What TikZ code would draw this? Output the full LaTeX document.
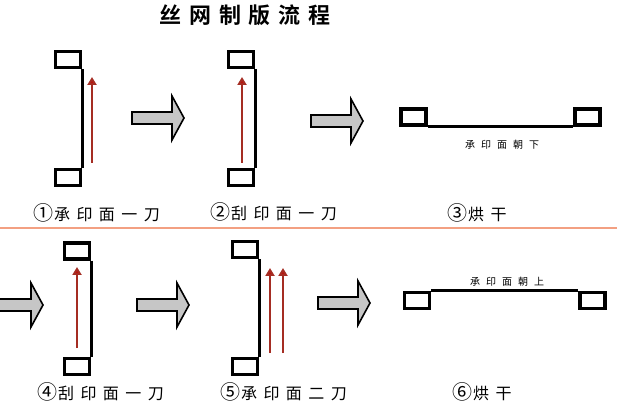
\documentclass[tikz,border=0pt]{standalone}
\usepackage{fontspec}
\newfontfamily\cjk{Noto Sans CJK SC}
\newfontfamily\cjkls[LetterSpace=40]{Noto Sans CJK SC}
\newfontfamily\cjksm[LetterSpace=60]{Noto Sans CJK SC}
\newfontfamily\cjkbold[LetterSpace=35]{Noto Sans CJK SC Bold}
\newcommand{\circd}[1]{{\cjk\fontsize{20}{20}\selectfont\raisebox{-0.5pt}{#1}}\hspace{1pt}}
\usetikzlibrary{arrows.meta}
\definecolor{stroke}{RGB}{165,45,35}
\definecolor{sep}{RGB}{243,160,130}
\tikzset{
  frame/.style={draw=black, line width=3.2pt, minimum width=25pt, minimum height=16pt, inner sep=0pt},
  bar/.style={line width=2.8pt, draw=black},
  redarr/.style={line width=2.8pt, draw=stroke, -{Triangle[length=8pt,width=9pt,fill=red!80!black]}},
  lbl/.style={font=\cjkls\fontsize{16}{16}\selectfont, anchor=west, inner sep=0pt},
  small/.style={font=\cjksm\fontsize{10}{10}\selectfont, inner sep=0pt},
  garrow/.pic={\draw[fill=gray!45, line width=1.6pt, line join=miter] (0,-6) -- (40,-6) -- (40,-22) -- (52,0) -- (40,22) -- (40,6) -- (0,6) -- cycle;}
}
\begin{document}
\begin{tikzpicture}[x=1pt,y=-1pt]
\useasboundingbox (0,0) rectangle (639,411);
% title
\node[font=\cjkbold\fontsize{22}{22}\selectfont, inner sep=0pt] (title) at (245,15) {丝网制版流程};
% separator
\draw[sep, line width=1.8pt] (0,228) -- (617,228);

% frame 1
\node[frame] (t1) at (68,59.5) {};
\node[frame] (b1) at (68,177.5) {};
\draw[bar] (t1.south east) -- (b1.north east);
\coordinate (r1s) at (92,163); \coordinate (r1e) at (92,77);
\draw[redarr] (r1s) -- (r1e);
\pic at (132,118) {garrow};
\node[lbl] (l1) at (33,213) {\circd{①}承印面一刀};

% frame 2
\node[frame] (t2) at (241,59.5) {};
\node[frame] (b2) at (241,177.5) {};
\draw[bar] (t2.south east) -- (b2.north east);
\coordinate (r2s) at (242,163); \coordinate (r2e) at (242,77);
\draw[redarr] (r2s) -- (r2e);
\pic at (311,121) {garrow};
\node[lbl] (l2) at (210,212) {\circd{②}刮印面一刀};

% frame 3
\node[frame] (lt3) at (413.5,117) {};
\node[frame] (rt3) at (587.5,117) {};
\draw[bar] (lt3.south east) -- (rt3.south west);
\node[small] (s3) at (502,145) {承印面朝下};
\node[lbl] (l3) at (447,213) {\circd{③}烘干};

% bottom row
\pic at (-9,305) {garrow};

% frame 4
\node[frame] (t4) at (77,251) {};
\node[frame] (b4) at (77,366.5) {};
\draw[bar] (t4.south east) -- (b4.north east);
\coordinate (r4s) at (77,348); \coordinate (r4e) at (77,267);
\draw[redarr] (r4s) -- (r4e);
\pic at (137,305) {garrow};
\node[lbl] (l4) at (37,392) {\circd{④}刮印面一刀};

% frame 5
\node[frame] (t5) at (245,249.5) {};
\node[frame] (b5) at (245,366.5) {};
\draw[bar] (t5.south east) -- (b5.north east);
\coordinate (r5as) at (270,353); \coordinate (r5ae) at (270,268);
\coordinate (r5bs) at (283,353); \coordinate (r5be) at (283,268);
\draw[redarr] (r5as) -- (r5ae);
\draw[redarr] (r5bs) -- (r5be);
\pic at (318,303) {garrow};
\node[lbl] (l5) at (220,392) {\circd{⑤}承印面二刀};

% frame 6
\node[frame] (lt6) at (417,300.5) {};
\node[frame] (rt6) at (592.5,300.5) {};
\draw[bar] (lt6.north east) -- (rt6.north west);
\node[small] (s6) at (507,282) {承印面朝上};
\node[lbl] (l6) at (452,392) {\circd{⑥}烘干};
\end{tikzpicture}
\end{document}
